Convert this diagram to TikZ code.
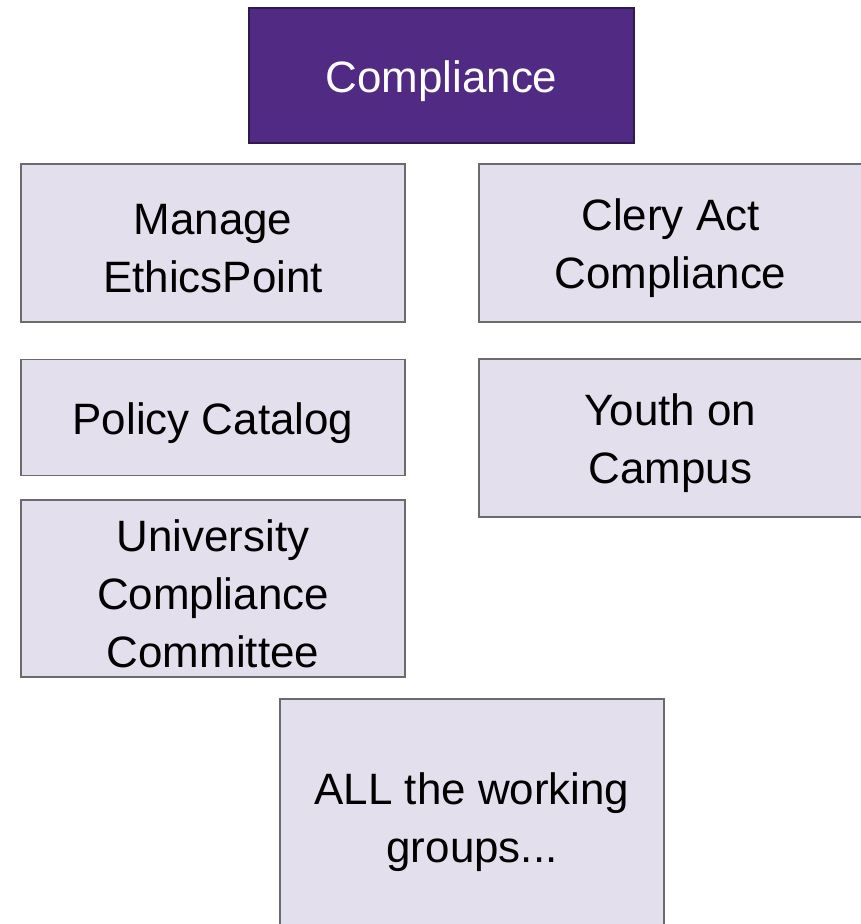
\documentclass[tikz,border=0pt]{standalone}
\usepackage{fontspec}
\setmainfont{Liberation Sans}
\usetikzlibrary{positioning}

\definecolor{kpurple}{HTML}{512A84}
\definecolor{kpurpleline}{HTML}{2E1A4F}
\definecolor{lavender}{HTML}{E3DFED}
\definecolor{boxline}{HTML}{6B6B6B}

\tikzset{
    topbox/.style={
            draw=kpurpleline,
            fill=kpurple,
            line width=1.1pt,
            inner sep=0pt,
            outer sep=0pt
        },
    itembox/.style={
            draw=boxline,
            fill=lavender,
            line width=1.1pt,
            inner sep=0pt,
            outer sep=0pt,
            minimum width=7.68cm
        },
    boxtext/.style={
            align=center,
            inner sep=0pt,
            yshift=-0.11cm,
            font=\fontsize{25}{33}\selectfont
        }
}

\begin{document}
\begin{tikzpicture}[x=0.02cm, y=-0.02cm]
            \useasboundingbox (0, 0) rectangle (861, 924);
            \clip (0, 0) rectangle (861, 924);
            \node [topbox, minimum width=7.7cm, minimum height=2.7cm,
                label={[boxtext, text=white]center:Compliance}] (compliance) at (441.5, 75.5) {};
            \node [itembox, minimum height=3.16cm,
                label={[boxtext]center:{Manage\\EthicsPoint}}] (ethics) at (213, 243) {};
            \node [itembox, minimum height=3.16cm,
                label={[boxtext]center:{Clery Act\\Compliance}}] (clery) at (670.5, 243) {};
            \node [itembox, minimum height=2.32cm,
                label={[boxtext]center:{Policy Catalog}}] (policy) at (213, 417.5) {};
            \node [itembox, minimum height=3.16cm,
                label={[boxtext]center:{Youth on\\Campus}}] (youth) at (670.5, 438) {};
            \node [itembox, minimum height=3.54cm,
                label={[boxtext]center:{University\\Compliance\\Committee}}] (committee) at (213, 588.5) {};
            \node [itembox, minimum height=4.72cm,
                label={[boxtext]center:{ALL the working\\groups...}}] (groups) at (472, 817) {};
        \end{tikzpicture}
\end{document}
